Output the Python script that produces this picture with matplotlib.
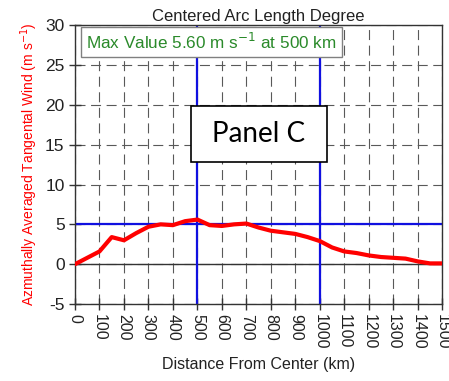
import numpy as np
import matplotlib.pyplot as plt
from matplotlib.patches import Rectangle

plt.rcParams['font.family'] = ['Liberation Sans', 'DejaVu Sans']

# Azimuthally averaged tangential wind vs distance
distance_km = [0, 50, 100, 150, 200, 250, 300, 350, 400, 450, 500, 550, 600,
               650, 700, 750, 800, 850, 900, 950, 1000, 1050, 1100, 1150,
               1200, 1250, 1300, 1350, 1400, 1450, 1500]
wind_ms = [0.0, 0.8, 1.6, 3.4, 3.0, 3.9, 4.7, 5.0, 4.9, 5.4, 5.6, 4.9, 4.8,
           5.0, 5.1, 4.6, 4.2, 4.0, 3.8, 3.4, 2.9, 2.1, 1.6, 1.4,
           1.1, 0.9, 0.8, 0.7, 0.35, 0.1, 0.1]

x_ticks = list(range(0, 1501, 100))
y_ticks = list(range(-5, 31, 5))
ref_lines_x = [500, 1000]
ref_line_y = 5

fig = plt.figure(figsize=(4.49, 3.81), dpi=100)
ax = fig.add_axes([0.167, 0.202, 0.818, 0.732])

ax.set_xlim(0, 1500)
ax.set_ylim(-5, 30)

# dashed grid
for xv in x_ticks:
    ax.axvline(xv, color="0.35", lw=0.8, ls=(0, (9, 5)), zorder=1)
for yv in y_ticks:
    ax.axhline(yv, color="0.35", lw=0.8, ls=(0, (9, 5)), zorder=1)
ax.axhline(0, color="0.2", lw=1.0, zorder=1)

# blue reference lines
for xv in ref_lines_x:
    ax.axvline(xv, color="#1010e0", lw=1.6, zorder=2)
ax.axhline(ref_line_y, color="#1010e0", lw=1.6, zorder=2)

ax.plot(distance_km, wind_ms, color="red", lw=3, zorder=3,
        solid_joinstyle="round", solid_capstyle="round")

ax.set_xticks(x_ticks)
ax.set_xticklabels([str(v) for v in x_ticks], rotation=-90, fontsize=11.5,
                   color="#222222")
ax.set_yticks(y_ticks)
ax.set_yticklabels([str(v) for v in y_ticks], fontsize=12.5, color="#222222")
ax.tick_params(direction="inout", length=9, width=1, color="0.2", pad=3)
for s in ax.spines.values():
    s.set_color("0.2")
    s.set_linewidth(1)

ax.set_title("Centered Arc Length Degree", fontsize=12, color="#222222", pad=3)
ax.set_xlabel("Distance From Center (km)", fontsize=11.5, color="#222222",
              labelpad=5)
ax.set_ylabel("Azmuthally Averaged Tangental Wind (m s$^{-1}$)", fontsize=10,
              color="red", labelpad=4)

ax.text(0.03, 0.94, "Max Value 5.60 m s$^{-1}$ at 500 km", transform=ax.transAxes,
        fontsize=12.3, color="#2a8a2a", ha="left", va="center", zorder=5,
        bbox=dict(boxstyle="square,pad=0.3", fc="white", ec="0.5", lw=1))

# Panel label box
fig.patches.append(Rectangle((191 / 449, 1 - 162 / 381), 136 / 449, 56 / 381,
                             transform=fig.transFigure, fc="white", ec="black",
                             lw=1.2, zorder=10))
fig.text(259 / 449, 1 - 134 / 381, "Panel C", fontsize=20, family="Lato",
         ha="center", va="center", zorder=11)

fig.savefig("out.png", dpi=100)
